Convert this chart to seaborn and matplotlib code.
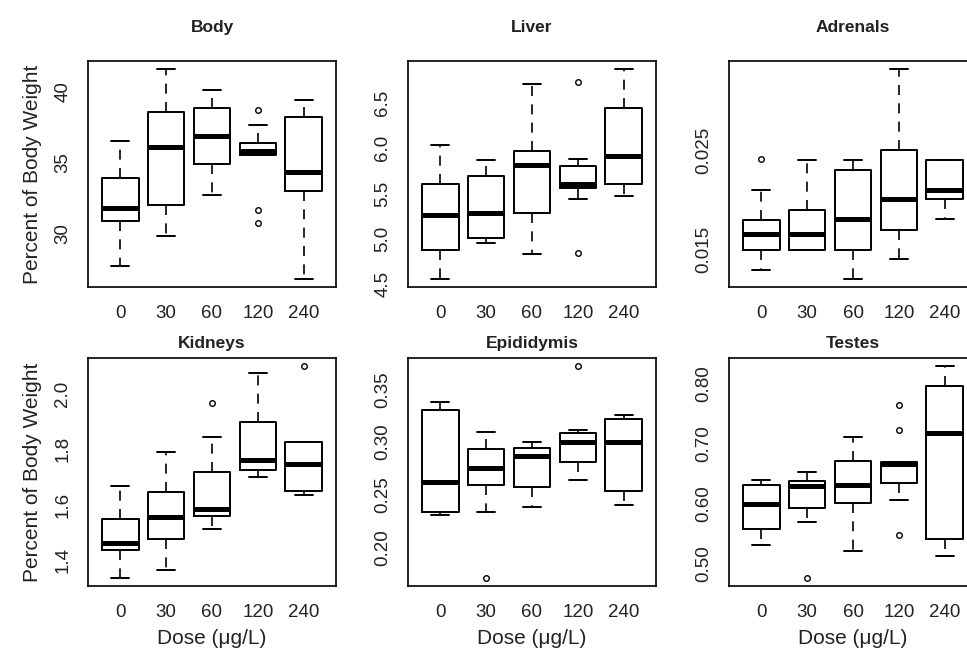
import numpy as np
import pandas as pd
import matplotlib
matplotlib.use("Agg")
import matplotlib.pyplot as plt
import seaborn as sns

# ------------------ Data (five-number summaries) ------------------
doses = ["0", "30", "60", "120", "240"]

# each row: [lower whisker, Q1, median, Q3, upper whisker]
body_stats = [[27.73, 30.89, 31.80, 33.93, 36.56],
              [29.81, 32.01, 36.14, 38.55, 41.59],
              [32.74, 34.89, 36.89, 38.85, 40.16],
              [35.57, 35.57, 35.83, 36.39, 37.63],
              [26.81, 33.02, 34.33, 38.20, 39.41]]
body_out = [[], [], [], [38.74, 31.69, 30.77], []]

liver_stats = [[4.56, 4.88, 5.26, 5.61, 6.04],
               [4.95, 5.01, 5.29, 5.69, 5.87],
               [4.83, 5.29, 5.81, 5.97, 6.71],
               [5.44, 5.56, 5.61, 5.80, 5.88],
               [5.47, 5.61, 5.91, 6.44, 6.87]]
liver_out = [[], [], [], [6.73, 4.84], []]

adrenals_stats = [[0.0130, 0.0150, 0.0166, 0.0180, 0.0210],
                  [0.0150, 0.0150, 0.0166, 0.0190, 0.0240],
                  [0.0121, 0.0150, 0.0181, 0.0230, 0.0240],
                  [0.0141, 0.0170, 0.0201, 0.0250, 0.0331],
                  [0.0181, 0.0201, 0.0210, 0.0240, 0.0240]]
adrenals_out = [[0.0241], [], [], [], []]

kidneys_stats = [[1.337, 1.438, 1.461, 1.549, 1.668],
                 [1.366, 1.476, 1.556, 1.644, 1.790],
                 [1.512, 1.560, 1.584, 1.716, 1.844],
                 [1.698, 1.726, 1.760, 1.896, 2.074],
                 [1.633, 1.648, 1.747, 1.827, 1.827]]
kidneys_out = [[], [], [1.967], [], [2.098]]

epid_stats = [[0.2303, 0.2332, 0.2626, 0.3309, 0.3385],
              [0.2332, 0.2590, 0.2756, 0.2935, 0.3101],
              [0.2380, 0.2578, 0.2871, 0.2945, 0.2999],
              [0.2638, 0.2808, 0.2999, 0.3085, 0.3114],
              [0.2399, 0.2536, 0.2999, 0.3216, 0.3254]]
epid_out = [[], [0.1713], [], [0.3720], []]

testes_stats = [[0.5314, 0.5583, 0.5993, 0.6307, 0.6397],
                [0.5701, 0.5925, 0.6290, 0.6374, 0.6531],
                [0.5208, 0.6015, 0.6307, 0.6711, 0.7120],
                [0.6060, 0.6352, 0.6671, 0.6694, 0.6694],
                [0.5135, 0.5409, 0.7187, 0.7973, 0.8292]]
testes_out = [[], [0.4770], [], [0.7647, 0.7238, 0.5477], []]

titles = ["Body", "Liver", "Adrenals", "Kidneys", "Epididymis", "Testes"]
all_stats = [body_stats, liver_stats, adrenals_stats, kidneys_stats, epid_stats, testes_stats]
all_out = [body_out, liver_out, adrenals_out, kidneys_out, epid_out, testes_out]

yticks = [[30, 35, 40],
          [4.5, 5.0, 5.5, 6.0, 6.5],
          [0.015, 0.020, 0.025, 0.030],
          [1.4, 1.6, 1.8, 2.0],
          [0.20, 0.25, 0.30, 0.35],
          [0.50, 0.55, 0.60, 0.65, 0.70, 0.75, 0.80]]
ytick_labels = [["30", "35", "40"],
                ["4.5", "5.0", "5.5", "6.0", "6.5"],
                ["0.015", "", "0.025", ""],
                ["1.4", "1.6", "1.8", "2.0"],
                ["0.20", "0.25", "0.30", "0.35"],
                ["0.50", "", "0.60", "", "0.70", "", "0.80"]]

# ------------------ Helpers ------------------
def to_bxp(stats, outliers):
    out = []
    for s, fl in zip(stats, outliers):
        out.append({"whislo": s[0], "q1": s[1], "med": s[2], "q3": s[3],
                    "whishi": s[4], "fliers": fl})
    return out


def r_ylim(stats, outliers):
    vals = [v for s in stats for v in s] + [v for fl in outliers for v in fl]
    lo, hi = min(vals), max(vals)
    pad = (hi - lo) * 0.04
    return lo - pad, hi + pad


# ------------------ Plot ------------------
sns.set_theme(style="white")
plt.rcParams["font.family"] = ["Liberation Sans", "DejaVu Sans"]

W, H = 967, 654
fig = plt.figure(figsize=(W / 100, H / 100), dpi=100)
fig.patch.set_facecolor("white")

col_left = [88, 408, 729]
ax_w = 248
rows = [(61, 287), (358, 586)]
title_pad = [21, 7]

for i, title in enumerate(titles):
    r, c = divmod(i, 3)
    top, bottom = rows[r]
    ax = fig.add_axes([col_left[c] / W, 1 - bottom / H, ax_w / W, (bottom - top) / H])
    ax.set_facecolor("white")

    ax.bxp(to_bxp(all_stats[i], all_out[i]), positions=range(1, 6), widths=0.8,
           capwidths=0.4, patch_artist=False,
           boxprops=dict(color="black", linewidth=1.4),
           medianprops=dict(color="black", linewidth=3.6, solid_capstyle="butt"),
           whiskerprops=dict(color="black", linewidth=1.2, linestyle=(0, (6, 5))),
           capprops=dict(color="black", linewidth=1.4),
           flierprops=dict(marker="o", markerfacecolor="none", markeredgecolor="black",
                           markersize=4, markeredgewidth=1.0))

    ax.set_xlim(0.3, 5.7)
    ax.set_ylim(*r_ylim(all_stats[i], all_out[i]))
    ax.set_xticks(range(1, 6))
    ax.set_xticklabels(doses)
    ax.set_yticks(yticks[i])
    ax.set_yticklabels(ytick_labels[i], rotation=90, va="center")

    ax.tick_params(axis="both", direction="out", length=8, width=1.2, color="black",
                   labelsize=13.5, labelcolor="#222222")
    ax.tick_params(axis="x", pad=5)
    ax.tick_params(axis="y", pad=4)
    for sp in ax.spines.values():
        sp.set_visible(True)
        sp.set_color("black")
        sp.set_linewidth(1.2)

    ax.set_title(title, fontsize=12.5, fontweight="bold", pad=title_pad[r], color="#222222")
    if c == 0:
        ax.set_ylabel("Percent of Body Weight", fontsize=15, labelpad=9, color="#222222")
    if r == 1:
        ax.set_xlabel("Dose (\u03bcg/L)", fontsize=15, labelpad=6, color="#222222")

fig.savefig("out.png", dpi=100, facecolor="white")
